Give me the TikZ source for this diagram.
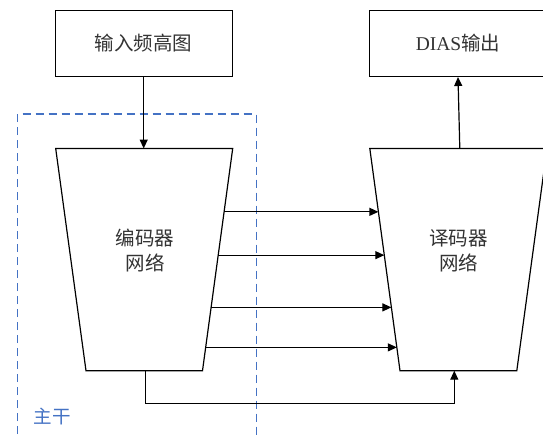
\documentclass[tikz,border=0pt]{standalone}
\usepackage{fontspec}
\setmainfont{Liberation Serif}
\newfontfamily\cjk{Noto Sans CJK SC}
\usetikzlibrary{arrows.meta,calc}
\definecolor{txt}{HTML}{333333}
\definecolor{dashblue}{HTML}{4472C4}
\begin{document}
\begin{tikzpicture}[x=1pt,y=-1pt,
  lab/.style={text=txt,font=\cjk\fontsize{19.5}{25}\selectfont,align=center,inner sep=0pt},
  box/.style={draw=black,line width=1.2pt,minimum width=177pt,minimum height=66pt,inner sep=0pt,text=txt,font=\fontsize{19.5}{25}\selectfont},
  trap/.style={draw=black,line width=1.2pt,fill=white},
  conn/.style={draw=black,line width=1.2pt,-{Triangle[length=9pt,width=8pt]}},
  backbone/.style={draw=dashblue,line width=1.2pt,dash pattern=on 8pt off 5pt}]
\clip (0,0) rectangle (543,434);
\fill[white] (0,0) rectangle (543,434);
% backbone dashed frame
\draw[backbone] (17.7,460) -- (17.7,114) -- (256.2,114) -- (256.2,460);
\node[text=dashblue,font=\cjk\fontsize{18.5}{22}\selectfont,inner sep=0pt] (bb) at (52,416) {主干};
% boxes
\node[box] (in) at (143.7,43.2) {\cjk 输入频高图};
\node[box] (out) at (458,43.4) {DIAS{\cjk 输出}};
% encoder trapezoid
\coordinate (eTL) at (55.7,148.5);
\coordinate (eTR) at (232.7,148.5);
\coordinate (eBR) at (202.5,370.7);
\coordinate (eBL) at (86,370.7);
\draw[trap] (eTL) -- (eTR) -- (eBR) -- (eBL) -- cycle;
\node[lab] (enc) at (145,250.5) {编码器\\网络};
% decoder trapezoid
\coordinate (dTL) at (369.8,148.5);
\coordinate (dTR) at (547,148.5);
\coordinate (dBR) at (516.8,370.7);
\coordinate (dBL) at (400,370.7);
\draw[trap] (dTL) -- (dTR) -- (dBR) -- (dBL) -- cycle;
\node[lab] (dec) at (458.7,251) {译码器\\网络};
% connectors
\coordinate (eTop) at (143.7,148.5);
\draw[conn] (in.south) -- (eTop);
\coordinate (dTop) at (459.8,148.5);
\draw[conn] (dTop) -- (out.south);
\foreach \t/\n in {0.285/1,0.48/2,0.715/3,0.895/4}{
  \coordinate (s\n) at ($(eTR)!\t!(eBR)$);
  \coordinate (e\n) at ($(dTL)!\t!(dBL)$);
  \draw[conn] (s\n) -- (e\n);
}
\coordinate (eBot) at (145.4,370.7);
\coordinate (dBot) at (454.3,370.7);
\draw[conn] (eBot) -- ++(0,32.6) -| (dBot);
\end{tikzpicture}
\end{document}
